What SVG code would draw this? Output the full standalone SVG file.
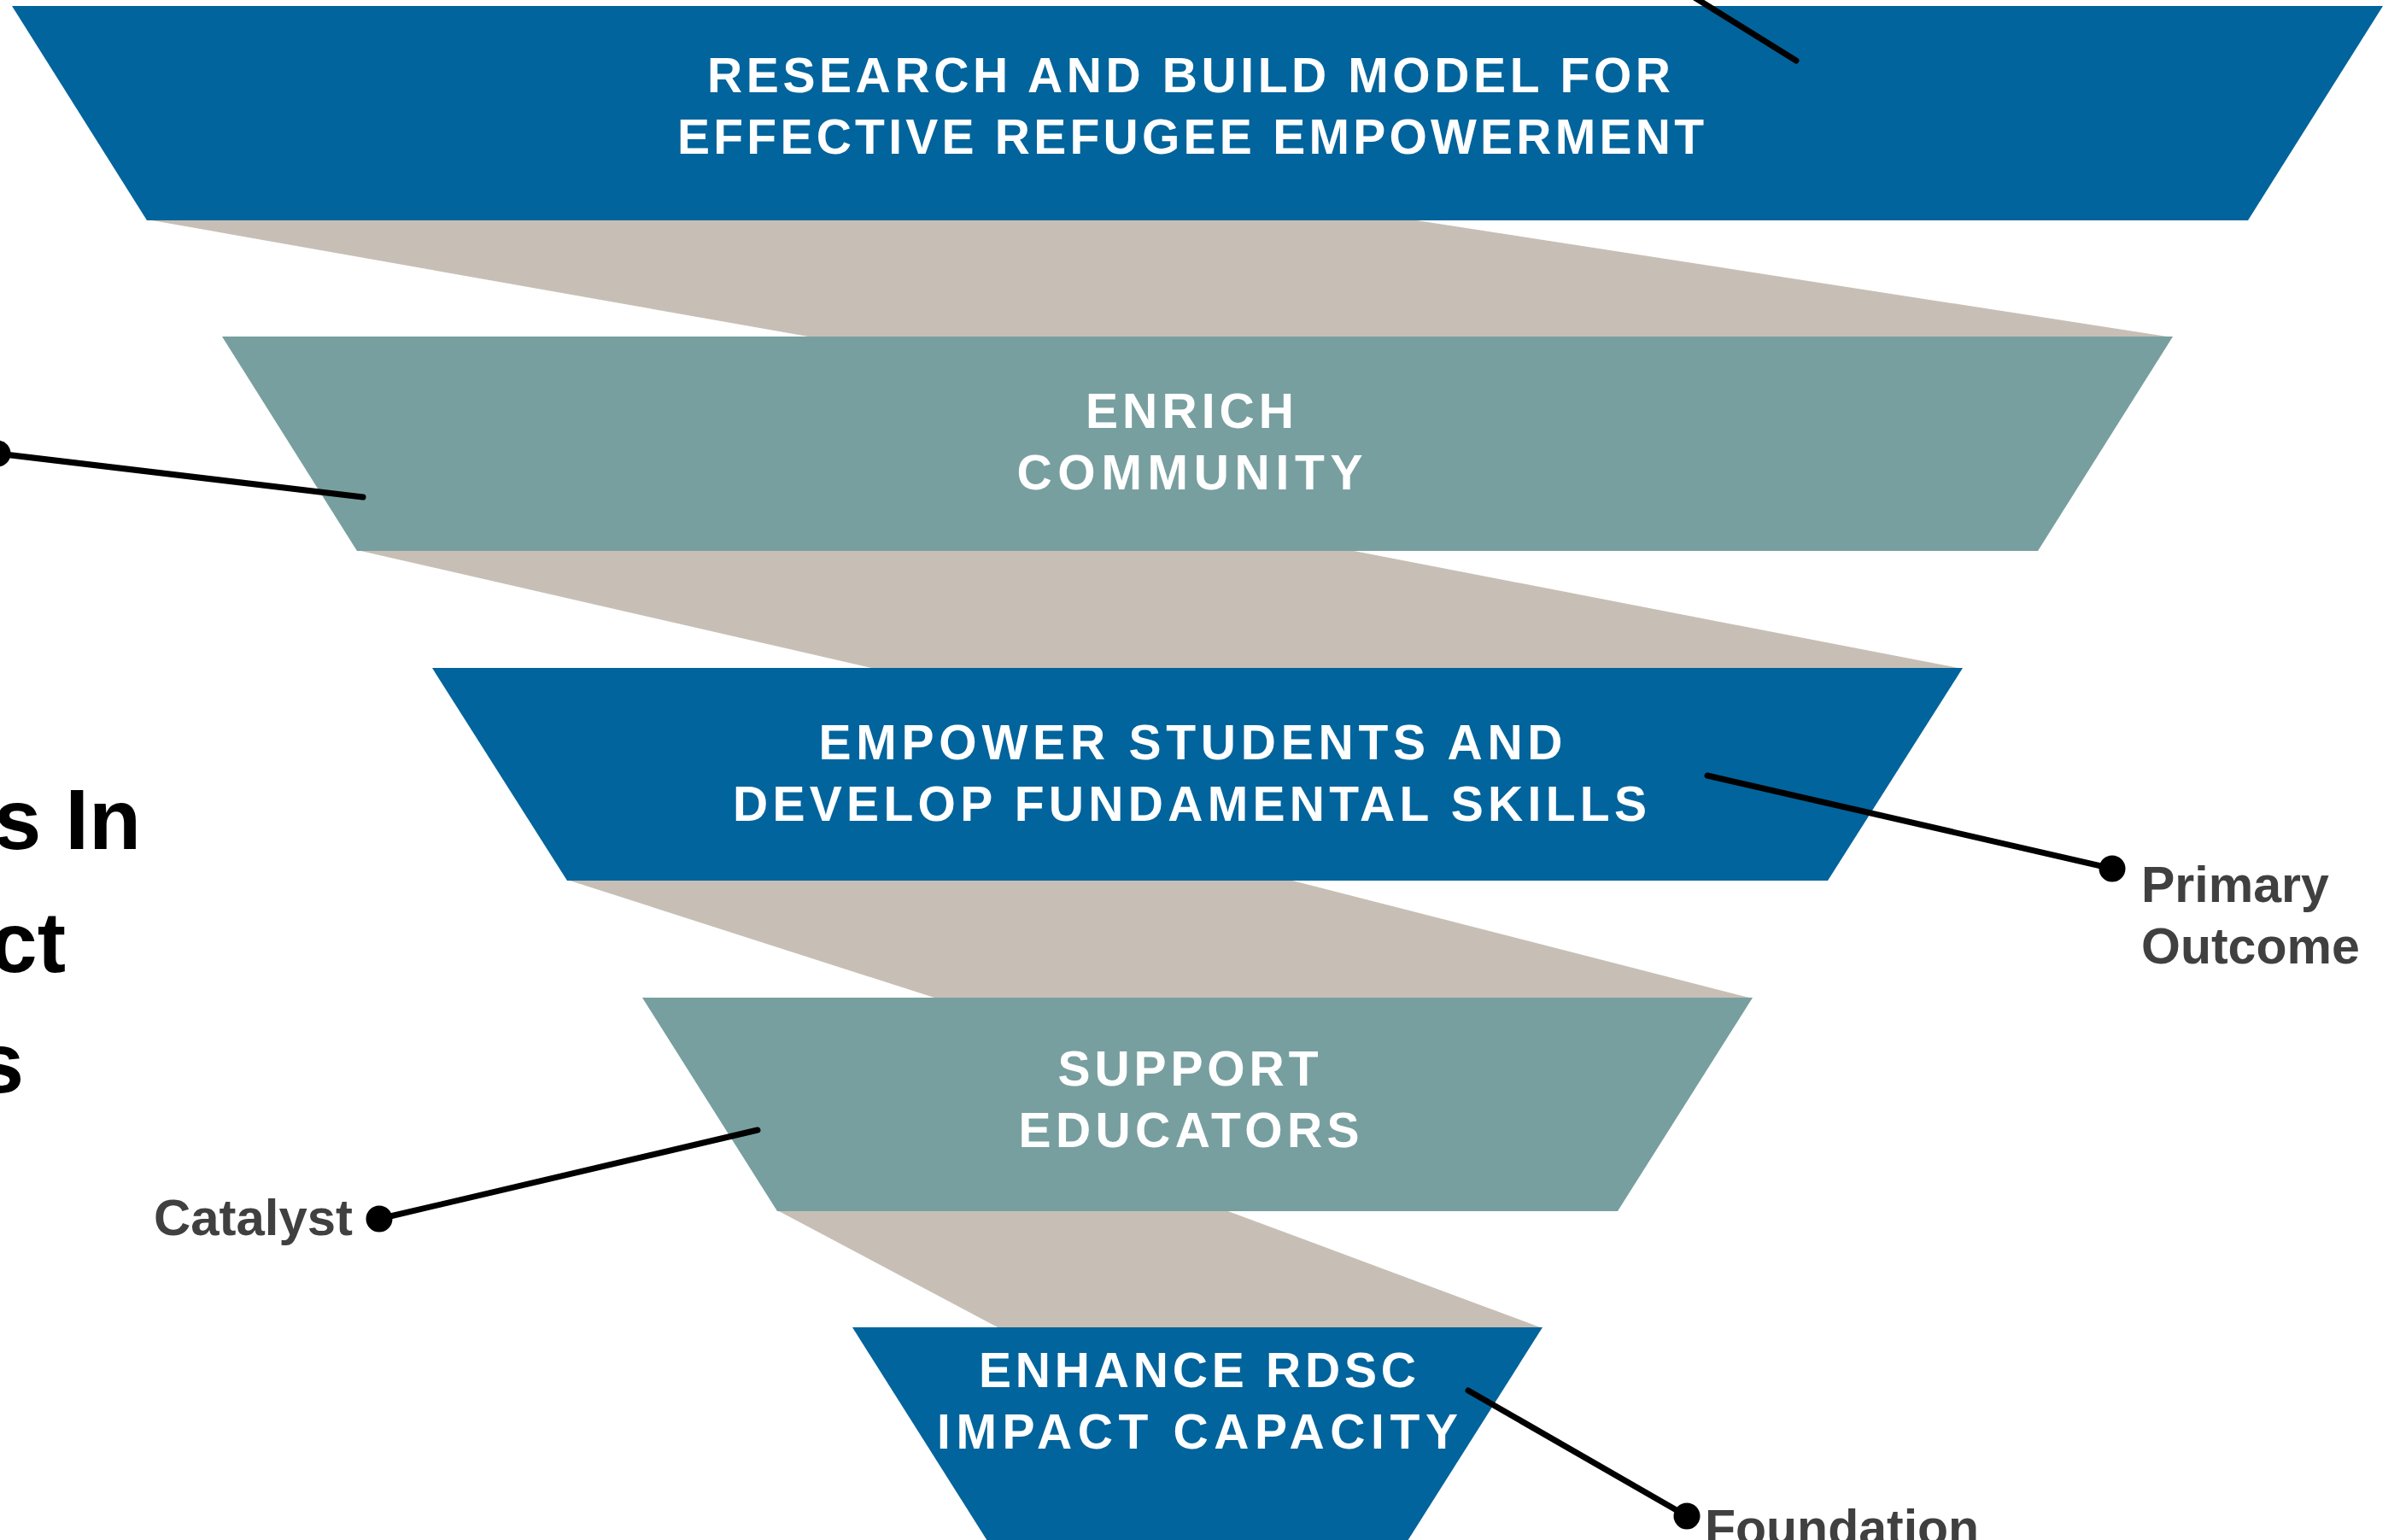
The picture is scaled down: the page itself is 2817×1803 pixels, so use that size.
<svg xmlns="http://www.w3.org/2000/svg" width="2817" height="1803" viewBox="0 0 2817 1803">
  <style>
    .blue { fill: #02649C; }
    .teal { fill: #789F9F; }
    .tan { fill: #C7BFB5; }
    .ttl { font-family: "Liberation Sans", Arial, sans-serif; font-weight: bold; font-size: 57px; fill: #FFFFFF; text-anchor: middle; }
    .lbl { font-family: "Liberation Sans", Arial, sans-serif; font-weight: bold; font-size: 59px; fill: #404040; }
    .big { font-family: "Liberation Sans", Arial, sans-serif; font-weight: bold; font-size: 100px; fill: #000000; text-anchor: end; }
    .lead { stroke: #000000; stroke-width: 7; stroke-linecap: round; fill: none; }
    .dot { fill: #000000; }
  </style>
  <rect x="0" y="0" width="2817" height="1803" fill="#FFFFFF"/>

  <g id="bands">
    <polygon class="tan" points="172,257 1652,257 2544,395 952,395"/>
    <polygon class="tan" points="418,644 1580,644 2298,783 1025,783"/>
    <polygon class="tan" points="664,1030 1509,1030 2052,1169 1097,1169"/>
    <polygon class="tan" points="910,1417 1435,1417 1806,1555 1170,1555"/>
  </g>

  <g id="level1">
    <polygon class="blue" points="14,7 2790,7 2632,258 172,258"/>
    <text class="ttl" x="1392" y="108" textLength="1128" lengthAdjust="spacing">RESEARCH AND BUILD MODEL FOR</text>
    <text class="ttl" x="1394" y="180" textLength="1202" lengthAdjust="spacing">EFFECTIVE REFUGEE EMPOWERMENT</text>
  </g>

  <g id="level2">
    <polygon class="teal" points="260,394 2544,394 2386,645 418,645"/>
    <text class="ttl" x="1393" y="501" textLength="244" lengthAdjust="spacing">ENRICH</text>
    <text class="ttl" x="1393" y="573" textLength="405" lengthAdjust="spacing">COMMUNITY</text>
  </g>

  <g id="level3">
    <polygon class="blue" points="506,782 2298,782 2140,1031 664,1031"/>
    <text class="ttl" x="1394" y="889" textLength="871" lengthAdjust="spacing">EMPOWER STUDENTS AND</text>
    <text class="ttl" x="1393" y="961" textLength="1070" lengthAdjust="spacing">DEVELOP FUNDAMENTAL SKILLS</text>
  </g>

  <g id="level4">
    <polygon class="teal" points="752,1168 2052,1168 1894,1418 910,1418"/>
    <text class="ttl" x="1391" y="1271" textLength="305" lengthAdjust="spacing">SUPPORT</text>
    <text class="ttl" x="1392" y="1343" textLength="399" lengthAdjust="spacing">EDUCATORS</text>
  </g>

  <g id="level5">
    <polygon class="blue" points="998,1554 1806,1554 1648,1804 1156,1804"/>
    <text class="ttl" x="1402" y="1624" textLength="512" lengthAdjust="spacing">ENHANCE RDSC</text>
    <text class="ttl" x="1402" y="1696" textLength="610" lengthAdjust="spacing">IMPACT CAPACITY</text>
  </g>

  <g id="side-title">
    <text class="big" x="165" y="994">s In</text>
    <text class="big" x="77" y="1138">ct</text>
    <text class="big" x="28" y="1279">s</text>
  </g>

  <g id="connectors">
    <line class="lead" x1="2103" y1="71" x2="1950" y2="-24"/>
    <line class="lead" x1="425" y1="582" x2="-3" y2="531"/>
    <circle class="dot" cx="-3" cy="531" r="15.5"/>
    <line class="lead" x1="1999" y1="908" x2="2473" y2="1017"/>
    <circle class="dot" cx="2473" cy="1017" r="15.5"/>
    <line class="lead" x1="887" y1="1323" x2="444" y2="1427"/>
    <circle class="dot" cx="444" cy="1427" r="15.5"/>
    <line class="lead" x1="1719" y1="1628" x2="1975" y2="1775"/>
    <circle class="dot" cx="1975" cy="1775" r="15.5"/>
  </g>

  <g id="label-primary">
    <text class="lbl" x="2507" y="1056">Primary</text>
    <text class="lbl" x="2507" y="1128">Outcome</text>
  </g>
  <g id="label-catalyst">
    <text class="lbl" x="180" y="1446" textLength="233" lengthAdjust="spacingAndGlyphs">Catalyst</text>
  </g>
  <g id="label-foundation">
    <text class="lbl" x="1996" y="1809">Foundation</text>
  </g>
</svg>
